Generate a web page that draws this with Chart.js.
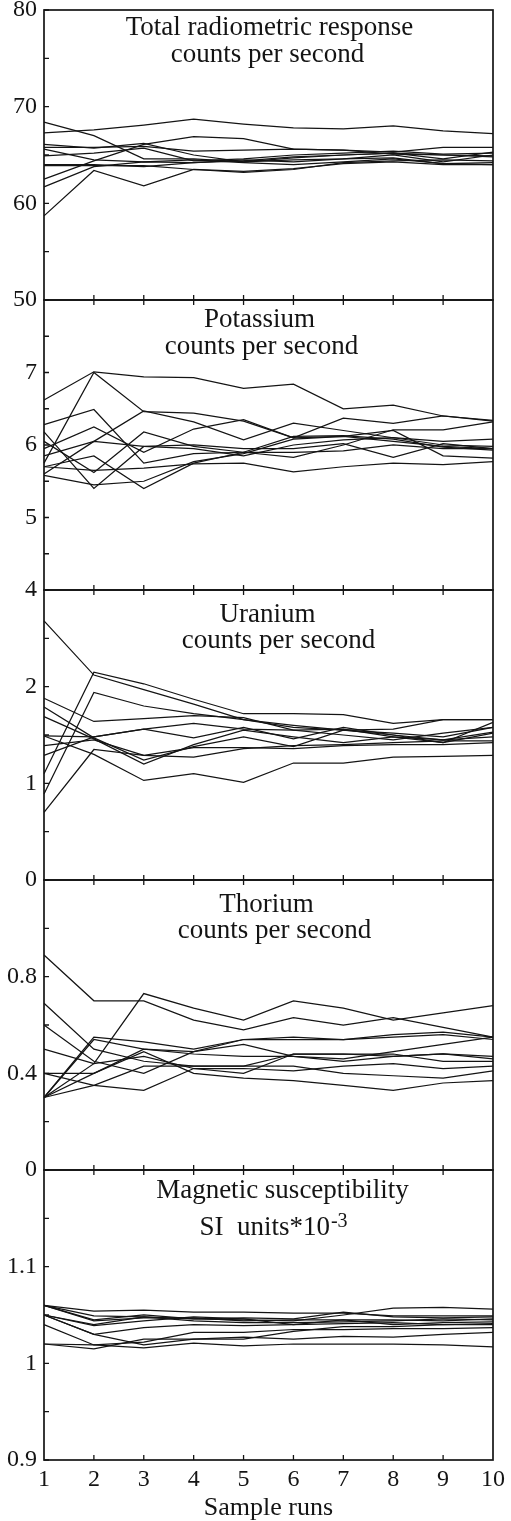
<!DOCTYPE html>
<html>
<head>
<meta charset="utf-8">
<script src="https://cdn.jsdelivr.net/npm/chart.js@4.4.1/dist/chart.umd.min.js"></script>
<style>
  html, body { margin: 0; padding: 0; background: #fff; overflow: hidden; }
  #wrap { position: relative; width: 511px; height: 1521px; }
  #wrap canvas { position: absolute; left: 0; }
</style>
</head>
<body>
<div id="wrap"></div>
<script>
// sample runs on the x axis
const runs = ['1', '2', '3', '4', '5', '6', '7', '8', '9', '10'];

// Total radiometric response, counts per second
const totalSeries = [
  [67.3, 67.6, 68.1, 68.7, 68.2, 67.8, 67.7, 68.0, 67.5, 67.2],
  [68.4, 67.0, 64.6, 64.6, 64.3, 64.7, 65.0, 65.2, 64.6, 65.3],
  [62.5, 64.4, 66.1, 66.9, 66.7, 65.6, 65.5, 65.1, 65.0, 64.8],
  [66.1, 65.7, 66.2, 65.0, 64.3, 64.5, 64.6, 65.0, 64.3, 65.0],
  [65.8, 65.8, 65.9, 65.4, 65.5, 65.6, 65.5, 65.3, 65.8, 65.8],
  [64.9, 65.2, 65.7, 64.4, 64.6, 65.0, 65.2, 65.4, 65.1, 65.2],
  [64.0, 64.0, 63.8, 64.2, 64.4, 64.8, 65.0, 65.2, 65.0, 64.9],
  [63.9, 63.9, 63.9, 63.5, 63.2, 63.5, 64.2, 64.4, 64.5, 64.4],
  [61.7, 63.8, 64.3, 64.2, 64.5, 64.3, 64.6, 64.7, 64.1, 64.2],
  [58.7, 63.4, 61.8, 63.5, 63.3, 63.6, 64.1, 64.3, 64.0, 64.0],
  [65.6, 64.5, 64.3, 64.5, 64.2, 64.0, 64.3, 64.6, 64.1, 64.0]
];

// Potassium, counts per second
const potassiumSeries = [
  [6.62, 7.01, 6.94, 6.93, 6.78, 6.84, 6.50, 6.55, 6.40, 6.34],
  [5.75, 7.00, 6.46, 6.44, 6.33, 6.10, 6.12, 6.05, 5.98, 5.95],
  [6.28, 6.49, 5.75, 5.88, 5.90, 6.12, 6.13, 6.08, 5.97, 5.93],
  [5.60, 6.05, 6.47, 6.32, 6.07, 6.30, 6.20, 6.10, 6.00, 5.98],
  [5.95, 6.25, 5.90, 6.22, 6.35, 6.10, 6.37, 6.30, 6.40, 6.33],
  [6.05, 5.62, 6.18, 5.98, 5.90, 5.83, 6.00, 6.21, 6.21, 6.32],
  [6.18, 5.40, 5.98, 6.00, 5.95, 5.95, 6.02, 5.83, 6.02, 5.95],
  [5.85, 6.05, 5.98, 5.95, 5.85, 6.00, 6.07, 6.10, 6.05, 6.08],
  [5.70, 5.85, 5.40, 5.75, 5.90, 5.90, 5.92, 6.00, 5.95, 5.95],
  [5.70, 5.65, 5.68, 5.74, 5.75, 5.63, 5.70, 5.75, 5.73, 5.77],
  [5.58, 5.45, 5.50, 5.77, 5.88, 6.08, 6.12, 6.20, 5.85, 5.82]
];

// Uranium, counts per second
const uraniumSeries = [
  [2.68, 2.12, 1.97, 1.82, 1.66, 1.58, 1.55, 1.50, 1.45, 1.53],
  [1.10, 2.15, 2.03, 1.87, 1.72, 1.72, 1.71, 1.62, 1.66, 1.66],
  [0.89, 1.94, 1.80, 1.72, 1.66, 1.60, 1.55, 1.52, 1.48, 1.58],
  [1.88, 1.64, 1.67, 1.70, 1.68, 1.55, 1.56, 1.48, 1.45, 1.48],
  [1.79, 1.47, 1.24, 1.38, 1.48, 1.38, 1.55, 1.56, 1.66, 1.66],
  [1.69, 1.46, 1.20, 1.40, 1.55, 1.48, 1.42, 1.48, 1.42, 1.63],
  [1.49, 1.48, 1.56, 1.47, 1.58, 1.46, 1.58, 1.50, 1.42, 1.52],
  [1.29, 1.48, 1.56, 1.62, 1.56, 1.55, 1.50, 1.45, 1.52, 1.58],
  [1.39, 1.45, 1.29, 1.27, 1.36, 1.39, 1.40, 1.42, 1.44, 1.44],
  [1.49, 1.30, 1.03, 1.10, 1.01, 1.21, 1.21, 1.27, 1.28, 1.29],
  [0.70, 1.35, 1.29, 1.37, 1.37, 1.36, 1.39, 1.40, 1.40, 1.42]
];

// Thorium, counts per second
const thoriumSeries = [
  [0.89, 0.70, 0.70, 0.62, 0.58, 0.63, 0.60, 0.63, 0.59, 0.55],
  [0.30, 0.44, 0.73, 0.67, 0.62, 0.70, 0.67, 0.62, 0.65, 0.68],
  [0.69, 0.50, 0.45, 0.43, 0.43, 0.48, 0.48, 0.47, 0.48, 0.47],
  [0.60, 0.45, 0.40, 0.49, 0.54, 0.54, 0.54, 0.56, 0.57, 0.55],
  [0.50, 0.44, 0.47, 0.42, 0.40, 0.48, 0.48, 0.48, 0.45, 0.45],
  [0.40, 0.40, 0.50, 0.49, 0.52, 0.47, 0.46, 0.49, 0.52, 0.55],
  [0.40, 0.35, 0.33, 0.42, 0.42, 0.41, 0.43, 0.44, 0.42, 0.43],
  [0.30, 0.55, 0.53, 0.50, 0.54, 0.55, 0.54, 0.55, 0.56, 0.54],
  [0.30, 0.54, 0.50, 0.48, 0.47, 0.47, 0.45, 0.47, 0.48, 0.46],
  [0.30, 0.40, 0.49, 0.40, 0.38, 0.37, 0.35, 0.33, 0.36, 0.37],
  [0.30, 0.35, 0.43, 0.43, 0.43, 0.43, 0.40, 0.39, 0.38, 0.41]
];

// Magnetic susceptibility, SI units*10^-3
const magneticSeries = [
  [1.060, 1.054, 1.055, 1.053, 1.053, 1.052, 1.052, 1.049, 1.049, 1.049],
  [1.060, 1.049, 1.048, 1.046, 1.045, 1.044, 1.050, 1.057, 1.058, 1.056],
  [1.060, 1.044, 1.047, 1.047, 1.044, 1.045, 1.045, 1.045, 1.044, 1.046],
  [1.050, 1.039, 1.044, 1.048, 1.046, 1.040, 1.045, 1.040, 1.042, 1.043],
  [1.050, 1.040, 1.048, 1.044, 1.042, 1.042, 1.043, 1.044, 1.046, 1.045],
  [1.050, 1.030, 1.019, 1.025, 1.025, 1.033, 1.038, 1.038, 1.040, 1.041],
  [1.050, 1.030, 1.037, 1.040, 1.039, 1.040, 1.041, 1.042, 1.040, 1.040],
  [1.040, 1.019, 1.022, 1.032, 1.032, 1.035, 1.035, 1.036, 1.036, 1.037],
  [1.020, 1.019, 1.016, 1.021, 1.018, 1.020, 1.020, 1.020, 1.019, 1.017],
  [1.020, 1.015, 1.025, 1.025, 1.027, 1.025, 1.028, 1.027, 1.030, 1.032],
  [1.060, 1.045, 1.050, 1.046, 1.047, 1.046, 1.053, 1.048, 1.047, 1.048]
];

// labelled y ticks for each panel (the rest are unlabelled minor ticks)
const totalTicks = [50, 60, 70, 80];
const potassiumTicks = [4, 5, 6, 7];
const uraniumTicks = [0, 1, 2];
const thoriumTicks = [0, 0.4, 0.8];
const magneticTicks = [0.9, 1, 1.1];

const FONT = "'Liberation Serif', 'Times New Roman', serif";
const INK = '#141414';
const PANEL_TOP = 10, PANEL_H = 290, AXIS_W = 44, RIGHT_PAD = 18, PAGE_H = 1521;
const MARGIN = 30; // room above/below each box so the layout never shifts it

const panels = [
  { series: totalSeries, min: 50, max: 80, step: 5, labels: totalTicks,
    title: ['Total radiometric response', 'counts per second'], dx: [1, -1], base: [25, 52] },
  { series: potassiumSeries, min: 4, max: 8, step: 0.5, labels: potassiumTicks,
    title: ['Potassium', 'counts per second'], dx: [-9, -7], base: [27, 54] },
  { series: uraniumSeries, min: 0, max: 3, step: 0.5, labels: uraniumTicks,
    title: ['Uranium', 'counts per second'], dx: [-1, 10], base: [32, 58] },
  { series: thoriumSeries, min: 0, max: 1.2, step: 0.2, labels: thoriumTicks,
    title: ['Thorium', 'counts per second'], dx: [-2, 6], base: [32, 58] },
  { series: magneticSeries, min: 0.9, max: 1.2, step: 0.05, labels: magneticTicks,
    title: ['Magnetic susceptibility', 'SI  units*10^-3'], dx: [14, 5], base: [28, 65] }
];

// title lines written inside the plot box
const panelTitle = {
  id: 'panelTitle',
  afterDatasetsDraw(chart, args, opts) {
    const { ctx, chartArea: a } = chart;
    const cx = (a.left + a.right) / 2;
    ctx.save();
    ctx.fillStyle = INK;
    ctx.textAlign = 'left';
    ctx.textBaseline = 'alphabetic';
    opts.lines.forEach((line, i) => {
      const [main, sup] = line.split('^');
      ctx.font = `27px ${FONT}`;
      const w1 = ctx.measureText(main).width;
      let w2 = 0;
      if (sup) {
        ctx.font = `20px ${FONT}`;
        w2 = ctx.measureText(sup).width + 1;
      }
      const x0 = cx + opts.dx[i] - (w1 + w2) / 2;
      const yb = a.top + opts.base[i];
      ctx.font = `27px ${FONT}`;
      ctx.fillText(main, x0, yb);
      if (sup) {
        ctx.font = `20px ${FONT}`;
        ctx.fillText(sup, x0 + w1 + 1, yb - 8);
      }
    });
    ctx.restore();
  }
};

// box frame plus short inward ticks
const frameTicks = {
  id: 'frameTicks',
  afterDraw(chart, args, opts) {
    const { ctx, chartArea: a, scales: { x, y } } = chart;
    ctx.save();
    ctx.strokeStyle = INK;
    ctx.lineWidth = 1.3;
    ctx.beginPath();
    y.ticks.forEach(t => {
      const py = y.getPixelForValue(t.value);
      ctx.moveTo(a.left, py);
      ctx.lineTo(a.left + 5, py);
    });
    for (let i = 1; i < runs.length - 1; i++) {
      const px = x.getPixelForValue(i);
      ctx.moveTo(px, a.bottom);
      ctx.lineTo(px, a.bottom - 5);
      if (opts.topTicks) {
        ctx.moveTo(px, a.top);
        ctx.lineTo(px, a.top + 5);
      }
    }
    ctx.stroke();
    ctx.lineWidth = 1.7;
    ctx.strokeRect(a.left, a.top, a.right - a.left, a.bottom - a.top);
    ctx.restore();
  }
};

const wrap = document.getElementById('wrap');

panels.forEach((p, i) => {
  const last = i === panels.length - 1;
  const padTop = MARGIN;
  const padBottom = last ? PAGE_H - (PANEL_TOP + PANEL_H * panels.length) : MARGIN;
  const canvas = document.createElement('canvas');
  canvas.width = 511;
  canvas.height = PANEL_H + padTop + padBottom;
  canvas.style.top = (PANEL_TOP + i * PANEL_H - padTop) + 'px';
  wrap.appendChild(canvas);

  new Chart(canvas.getContext('2d'), {
    type: 'line',
    data: {
      labels: runs,
      datasets: p.series.map(s => ({
        data: s,
        borderColor: INK,
        borderWidth: 1.25,
        pointRadius: 0,
        tension: 0,
        fill: false
      }))
    },
    options: {
      responsive: false,
      animation: false,
      devicePixelRatio: 1,
      events: [],
      layout: { padding: { top: padTop, right: RIGHT_PAD, left: 0, bottom: 0 } },
      plugins: {
        legend: { display: false },
        tooltip: { enabled: false },
        panelTitle: { lines: p.title, dx: p.dx, base: p.base },
        frameTicks: { topTicks: i > 0 }
      },
      scales: {
        x: {
          type: 'category',
          offset: false,
          grid: { display: false, drawTicks: false },
          border: { display: false },
          ticks: {
            display: last,
            padding: 5,
            autoSkip: false,
            maxRotation: 0,
            color: INK,
            font: { family: FONT, size: 24 }
          },
          title: {
            display: last,
            text: 'Sample runs',
            color: INK,
            font: { family: FONT, size: 26 },
            padding: { top: 0, bottom: -3 }
          },
          afterFit: s => { s.height = padBottom; }
        },
        y: {
          type: 'linear',
          min: p.min,
          max: p.max,
          grid: { display: false, drawTicks: false },
          border: { display: false },
          ticks: {
            stepSize: p.step,
            padding: 7,
            autoSkip: false,
            color: INK,
            font: { family: FONT, size: 24 },
            callback: v => p.labels.some(l => Math.abs(l - v) < 1e-9) ? String(+(+v).toFixed(2)) : ''
          },
          afterFit: s => { s.width = AXIS_W; }
        }
      }
    },
    plugins: [panelTitle, frameTicks]
  });
});
</script>
</body>
</html>
